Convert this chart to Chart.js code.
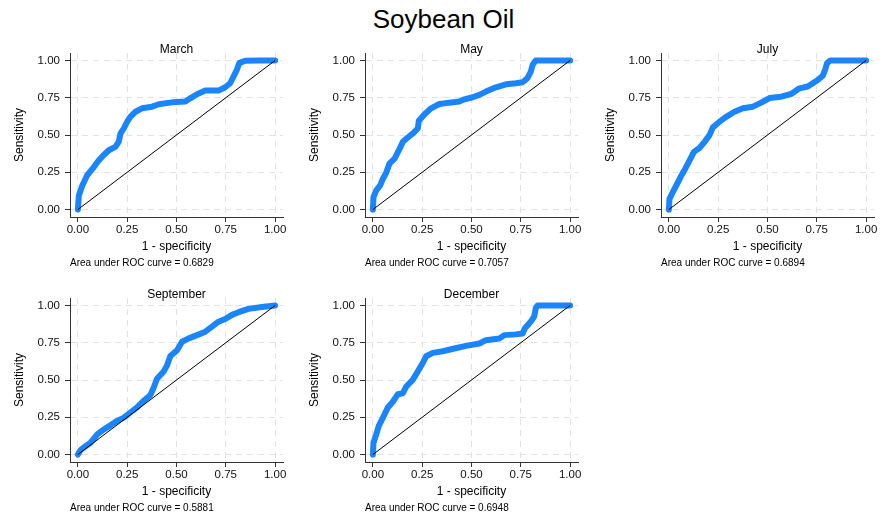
<!DOCTYPE html>
<html>
<head>
<meta charset="utf-8">
<script src="https://cdn.jsdelivr.net/npm/chart.js@4.4.1/dist/chart.umd.min.js"></script>
<style>
  html, body { margin: 0; padding: 0; background: #fff; overflow: hidden; }
  body { width: 883px; height: 517px; position: relative; font-family: "Liberation Sans", Arial, sans-serif; }
  #title { position: absolute; left: 2px; top: 4px; width: 883px; text-align: center; font-size: 26px; line-height: 30px; color: #000; }
  canvas { position: absolute; }
</style>
</head>
<body>
<div id="title">Soybean Oil</div>
<canvas id="roc0" width="295" height="237" style="left:0px;top:35px"></canvas>
<canvas id="roc1" width="295" height="237" style="left:295px;top:35px"></canvas>
<canvas id="roc2" width="295" height="237" style="left:591px;top:35px"></canvas>
<canvas id="roc3" width="295" height="237" style="left:0px;top:280px"></canvas>
<canvas id="roc4" width="295" height="237" style="left:295px;top:280px"></canvas>
<script>
// ROC curves by contract month: x = 1 - specificity, y = sensitivity

const months = ['March', 'May', 'July', 'September', 'December'];
const aucValues = ['0.6829', '0.7057', '0.6894', '0.5881', '0.6948'];
const tickValues = [0, 0.25, 0.5, 0.75, 1];
const refLineX = [0, 1];
const refLineY = [0, 1];

const marchFpr = [0, 0.005, 0.022, 0.047, 0.081, 0.106, 0.13, 0.157, 0.19, 0.207, 0.216, 0.233, 0.25, 0.266, 0.292, 0.325, 0.376, 0.41, 0.477, 0.545, 0.57, 0.604, 0.646, 0.713, 0.747, 0.772, 0.789, 0.806, 0.818, 0.848, 0.916, 1];
const marchTpr = [0, 0.094, 0.16, 0.23, 0.285, 0.33, 0.364, 0.398, 0.42, 0.454, 0.51, 0.544, 0.589, 0.622, 0.656, 0.679, 0.69, 0.706, 0.719, 0.724, 0.746, 0.773, 0.798, 0.798, 0.82, 0.847, 0.892, 0.937, 0.982, 0.998, 1, 1];

const mayFpr = [0, 0.003, 0.017, 0.037, 0.051, 0.067, 0.084, 0.11, 0.132, 0.152, 0.177, 0.202, 0.228, 0.233, 0.261, 0.295, 0.337, 0.388, 0.438, 0.464, 0.506, 0.54, 0.573, 0.624, 0.675, 0.725, 0.759, 0.784, 0.801, 0.81, 0.826, 1];
const mayTpr = [0, 0.083, 0.128, 0.162, 0.207, 0.245, 0.308, 0.342, 0.398, 0.454, 0.483, 0.51, 0.544, 0.596, 0.638, 0.679, 0.708, 0.717, 0.724, 0.739, 0.753, 0.769, 0.791, 0.82, 0.84, 0.847, 0.854, 0.881, 0.926, 0.971, 1, 1];

const julyFpr = [0, 0.003, 0.02, 0.042, 0.059, 0.083, 0.105, 0.127, 0.155, 0.181, 0.206, 0.223, 0.257, 0.29, 0.333, 0.375, 0.426, 0.468, 0.51, 0.569, 0.62, 0.662, 0.704, 0.755, 0.78, 0.792, 0.802, 0.819, 1];
const julyTpr = [0, 0.072, 0.117, 0.173, 0.218, 0.274, 0.33, 0.387, 0.413, 0.454, 0.499, 0.551, 0.589, 0.622, 0.656, 0.679, 0.69, 0.717, 0.748, 0.757, 0.775, 0.813, 0.825, 0.869, 0.897, 0.937, 0.982, 1, 1];

const septemberFpr = [0, 0.013, 0.039, 0.064, 0.098, 0.132, 0.165, 0.199, 0.233, 0.266, 0.3, 0.334, 0.368, 0.385, 0.401, 0.435, 0.452, 0.469, 0.503, 0.528, 0.562, 0.604, 0.646, 0.68, 0.713, 0.747, 0.781, 0.815, 0.865, 0.933, 1];
const septemberTpr = [0, 0.029, 0.056, 0.079, 0.135, 0.169, 0.196, 0.226, 0.248, 0.282, 0.316, 0.361, 0.4, 0.451, 0.508, 0.557, 0.598, 0.661, 0.7, 0.757, 0.779, 0.801, 0.824, 0.858, 0.891, 0.909, 0.937, 0.955, 0.977, 0.989, 1];

const decemberFpr = [0, 0.003, 0.017, 0.03, 0.051, 0.076, 0.101, 0.126, 0.152, 0.169, 0.202, 0.228, 0.253, 0.27, 0.304, 0.354, 0.413, 0.472, 0.54, 0.573, 0.641, 0.666, 0.725, 0.759, 0.771, 0.801, 0.818, 0.826, 0.835, 1];
const decemberTpr = [0, 0.079, 0.135, 0.192, 0.248, 0.316, 0.354, 0.404, 0.411, 0.456, 0.501, 0.558, 0.614, 0.659, 0.682, 0.693, 0.711, 0.729, 0.745, 0.767, 0.779, 0.801, 0.806, 0.812, 0.847, 0.892, 0.926, 0.982, 1, 1];

const curves = [
  [marchFpr, marchTpr],
  [mayFpr, mayTpr],
  [julyFpr, julyTpr],
  [septemberFpr, septemberTpr],
  [decemberFpr, decemberTpr]
];

Chart.defaults.font.family = '"Liberation Sans", Arial, sans-serif';
Chart.defaults.color = '#000';

function toPoints(xs, ys) {
  return xs.map((x, i) => ({ x: x, y: ys[i] }));
}

const gridColor = '#e2e2e2';
const axisColor = '#333';

function makeRoc(id, title, auc, fpr, tpr) {
  const ctx = document.getElementById(id).getContext('2d');
  return new Chart(ctx, {
    type: 'scatter',
    data: {
      datasets: [{
        // reference line, drawn on top
        data: toPoints(refLineX, refLineY),
        showLine: true,
        borderColor: '#000',
        borderWidth: 1,
        pointRadius: 0
      }, {
        data: toPoints(fpr, tpr),
        showLine: true,
        borderColor: '#1a85ff',
        borderWidth: 6,
        borderJoinStyle: 'round',
        borderCapStyle: 'round',
        pointRadius: 0
      }]
    },
    options: {
      responsive: false,
      animation: false,
      layout: { padding: { top: 0, left: 0, right: 12, bottom: 0 } },
      plugins: {
        legend: { display: false },
        tooltip: { enabled: false },
        title: {
          display: true,
          text: title,
          fullSize: false,
          color: '#000',
          font: { size: 12, weight: 'normal', lineHeight: 1.2 },
          padding: { top: 7.3, bottom: -3.7 }
        },
        subtitle: {
          display: true,
          text: 'Area under ROC curve = ' + auc,
          position: 'bottom',
          align: 'start',
          fullSize: false,
          color: '#000',
          font: { size: 10, lineHeight: 1.2 },
          padding: { top: 0, bottom: 2.5 }
        }
      },
      scales: {
        x: {
          type: 'linear',
          min: -0.04,
          max: 1.04,
          afterBuildTicks: function(scale) {
            scale.ticks = tickValues.map(v => ({ value: v }));
          },
          afterFit: function(scale) {
            scale.height = 40.5;
          },
          ticks: {
            color: '#111',
            font: { size: 11.5 },
            padding: 1,
            maxRotation: 0,
            autoSkip: false,
            callback: function(value) {
              return Number(value).toFixed(2);
            }
          },
          grid: { color: gridColor, lineWidth: 1, tickLength: 5, tickColor: axisColor },
          border: { display: true, color: axisColor, width: 1, dash: [6, 5] },
          title: {
            display: true,
            text: '1 - specificity',
            color: '#000',
            font: { size: 12 },
            padding: { top: 0, bottom: 4.1 }
          }
        },
        y: {
          type: 'linear',
          min: -0.05,
          max: 1.05,
          afterBuildTicks: function(scale) {
            scale.ticks = tickValues.map(v => ({ value: v }));
          },
          afterFit: function(scale) {
            scale.width = 70;
          },
          ticks: {
            color: '#111',
            font: { size: 11.5 },
            padding: 5,
            autoSkip: false,
            callback: function(value) {
              return Number(value).toFixed(2);
            }
          },
          grid: { color: gridColor, lineWidth: 1, tickLength: 5, tickColor: axisColor },
          border: { display: true, color: axisColor, width: 1, dash: [6, 5] },
          title: {
            display: true,
            text: 'Sensitivity',
            color: '#000',
            font: { size: 12 },
            padding: { top: 12.3, bottom: 0 }
          }
        }
      }
    }
  });
}

months.forEach(function(m, i) {
  makeRoc('roc' + i, m, aucValues[i], curves[i][0], curves[i][1]);
});
</script>
</body>
</html>
